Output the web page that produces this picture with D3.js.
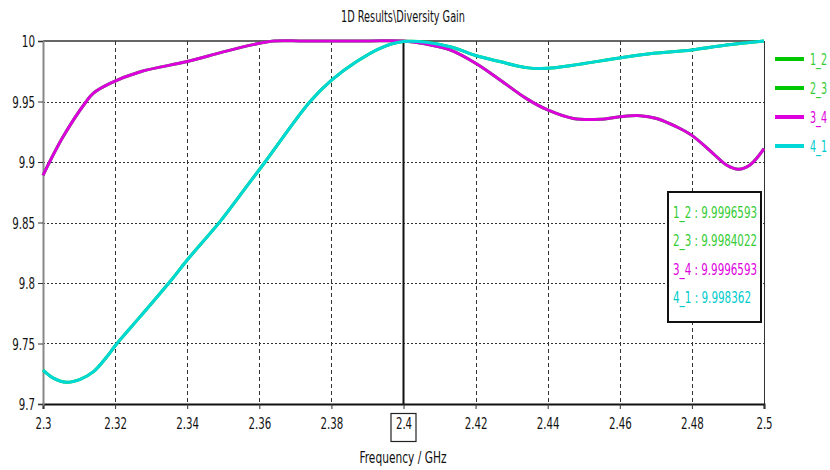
<!DOCTYPE html>
<html><head><meta charset="utf-8">
<script src="https://cdn.jsdelivr.net/npm/d3@7"></script>
<style>
body{margin:0;background:#fff;}
svg{display:block;}
text{font-family:"Liberation Sans Narrow","DejaVu Sans Condensed","Arial Narrow",sans-serif;}
</style></head>
<body><svg id="c" width="830" height="470"></svg>
<script>
// ---- data ----
const title = "1D Results\\Diversity Gain";
const xLabel = "Frequency / GHz";
const xTicks = [2.3, 2.32, 2.34, 2.36, 2.38, 2.4, 2.42, 2.44, 2.46, 2.48, 2.5];
const yTicks = [9.7, 9.75, 9.8, 9.85, 9.9, 9.95, 10];
const seriesNames = ["1_2", "2_3", "3_4", "4_1"];
const seriesColors = ["#00c800", "#00c800", "#dd00dd", "#00d8d8"];
const markerFreq = 2.4;
const markerValues = ["9.9996593", "9.9984022", "9.9996593", "9.998362"];
const markerColors = ["#33cc33", "#33cc33", "#dd00dd", "#00cccc"];

const freq12 = [2.300,2.3056,2.312,2.314,2.3186,2.327,2.340,2.350,2.3583,2.364,2.372,2.380,2.390,2.400,2.4055,2.4129,2.420,2.4267,2.434,2.440,2.4471,2.4545,2.460,2.4656,2.4702,2.4758,2.480,2.4859,2.4896,2.4929,2.4961,2.500];
const vals12 = [9.889,9.921,9.950,9.957,9.965,9.9746,9.983,9.991,9.997,10.0,10.0,10.0,10.0,10.0,9.998,9.9926,9.9816,9.968,9.9526,9.943,9.936,9.9353,9.9374,9.9383,9.936,9.929,9.922,9.907,9.8975,9.894,9.8975,9.911];
const freq23 = [2.300,2.303,2.3066,2.3103,2.314,2.3177,2.3202,2.3269,2.3352,2.340,2.3491,2.3547,2.3616,2.3741,2.3802,2.387,2.3935,2.400,2.4129,2.420,2.4267,2.434,2.440,2.447,2.460,2.4693,2.480,2.4896,2.500];
const vals23 = [9.728,9.7212,9.718,9.7204,9.7267,9.739,9.7488,9.772,9.801,9.819,9.8507,9.8727,9.900,9.950,9.968,9.983,9.994,9.9995,9.9953,9.988,9.983,9.978,9.9774,9.980,9.986,9.9898,9.9926,9.9967,10.0];
const freq34 = [2.300,2.3056,2.312,2.314,2.3186,2.327,2.340,2.350,2.3583,2.364,2.372,2.380,2.390,2.400,2.4055,2.4129,2.420,2.4267,2.434,2.440,2.4471,2.4545,2.460,2.4656,2.4702,2.4758,2.480,2.4859,2.4896,2.4929,2.4961,2.500];
const vals34 = [9.889,9.921,9.950,9.957,9.965,9.9746,9.983,9.991,9.997,10.0,10.0,10.0,10.0,10.0,9.998,9.9926,9.9816,9.968,9.9526,9.943,9.936,9.9353,9.9374,9.9383,9.936,9.929,9.922,9.907,9.8975,9.894,9.8975,9.911];
const freq41 = [2.300,2.303,2.3066,2.3103,2.314,2.3177,2.3202,2.3269,2.3352,2.340,2.3491,2.3547,2.3616,2.3741,2.3802,2.387,2.3935,2.400,2.4129,2.420,2.4267,2.434,2.440,2.447,2.460,2.4693,2.480,2.4896,2.500];
const vals41 = [9.728,9.7212,9.718,9.7204,9.7267,9.739,9.7488,9.772,9.801,9.819,9.8507,9.8727,9.900,9.950,9.968,9.983,9.994,9.9995,9.9953,9.988,9.983,9.978,9.9774,9.980,9.986,9.9898,9.9926,9.9967,10.0];

const seriesFreqs = [freq12, freq23, freq34, freq41];
const seriesVals = [vals12, vals23, vals34, vals41];

// ---- drawing ----
const svg = d3.select("#c");
const L = 43, R = 764, T = 41, B = 404;
const x = d3.scaleLinear().domain([2.3, 2.5]).range([L, R]);
const y = d3.scaleLinear().domain([9.7, 10]).range([B, T]);

// approximate condensed-font width of a numeric label
const numWidth = s => { let w = 0; for (const c of s) w += (c === "." ? 3 : (c === "_" ? 6 : 6.6)); return w; };
// squeeze a text horizontally to a target width (keeps real bbox)
function squeeze(sel, target, anchorX, anchorY) {
  const nat = sel.node().getComputedTextLength();
  const k = nat > 0 ? target / nat : 1;
  sel.attr("x", 0).attr("y", 0).attr("transform", `translate(${anchorX},${anchorY}) scale(${k},1)`);
}

svg.append("rect").attr("width", 830).attr("height", 470).attr("fill", "#fff");

// grid
const g = svg.append("g");
g.selectAll(".vg").data(xTicks.filter(t => t > 2.3 && t < 2.5 && Math.abs(t - markerFreq) > 1e-9)).enter()
  .append("line").attr("x1", d => Math.round(x(d)) + 0.5).attr("x2", d => Math.round(x(d)) + 0.5)
  .attr("y1", T).attr("y2", B).attr("stroke", "#333").attr("stroke-width", 1).attr("stroke-dasharray", "4,3");
g.selectAll(".hg").data(yTicks.filter(t => t > 9.7 && t < 10)).enter()
  .append("line").attr("y1", d => Math.round(y(d)) + 0.5).attr("y2", d => Math.round(y(d)) + 0.5)
  .attr("x1", L).attr("x2", R).attr("stroke", "#333").attr("stroke-width", 1).attr("stroke-dasharray", "2,2");

// frame
svg.append("line").attr("x1", L).attr("x2", R).attr("y1", T).attr("y2", T).attr("stroke", "#333").attr("stroke-width", 1.5);
svg.append("line").attr("x1", R + 0.5).attr("x2", R + 0.5).attr("y1", T).attr("y2", B).attr("stroke", "#333").attr("stroke-width", 1);

// axes
const xAxis = d3.axisBottom(x).tickValues(xTicks).tickFormat(d3.format("")).tickSize(5).tickPadding(9);
const yAxis = d3.axisLeft(y).tickValues(yTicks).tickFormat(d3.format("")).tickSize(5).tickPadding(3);
const gx = svg.append("g").attr("transform", `translate(0,${B})`).call(xAxis);
const gy = svg.append("g").attr("transform", `translate(${L},0)`).call(yAxis);
gx.select(".domain").attr("stroke", "#111").attr("stroke-width", 2);
gy.select(".domain").attr("stroke", "#888").attr("stroke-width", 2);
gx.selectAll(".tick line").attr("stroke", "#333");
gy.selectAll(".tick line").attr("stroke", "#333");
[gx, gy].forEach(a => a.selectAll("text").attr("fill", "#111").style("font-size", "16px")
  .style("font-family", '"Liberation Sans Narrow","DejaVu Sans Condensed",sans-serif')
  .each(function () { const s = d3.select(this); s.attr("textLength", numWidth(s.text())).attr("lengthAdjust", "spacingAndGlyphs"); }));
gy.selectAll("text").attr("dy", "0.35em");

// marker line
svg.append("line").attr("x1", x(markerFreq)).attr("x2", x(markerFreq)).attr("y1", T).attr("y2", B)
  .attr("stroke", "#111").attr("stroke-width", 2);
// box around marker tick label
svg.append("rect").attr("x", x(markerFreq) - 12.5).attr("y", 413.5).attr("width", 25).attr("height", 28)
  .attr("fill", "none").attr("stroke", "#222").attr("stroke-width", 1.2);

// series
const line = d3.line().curve(d3.curveCatmullRom.alpha(0.5));
seriesNames.forEach((n, i) => {
  const pts = seriesFreqs[i].map((f, k) => [x(f), y(seriesVals[i][k])]);
  svg.append("path").attr("d", line(pts)).attr("fill", "none")
    .attr("stroke", seriesColors[i]).attr("stroke-width", 3).attr("stroke-linejoin", "round");
});

// title & x label
svg.append("text").attr("x", 403).attr("y", 22).attr("text-anchor", "middle")
  .style("font-size", "16px").attr("fill", "#111").attr("textLength", 124).attr("lengthAdjust", "spacingAndGlyphs").text(title);
svg.append("text").attr("x", 403).attr("y", 463).attr("text-anchor", "middle")
  .style("font-size", "16px").attr("fill", "#111").attr("textLength", 87).attr("lengthAdjust", "spacingAndGlyphs").text(xLabel);

// legend
const lg = svg.append("g");
seriesNames.forEach((n, i) => {
  const yy = 59 + i * 29;
  lg.append("line").attr("x1", 775).attr("x2", 804).attr("y1", yy).attr("y2", yy)
    .attr("stroke", seriesColors[i]).attr("stroke-width", 4);
  const t = lg.append("text").attr("dy", "0.35em").style("font-size", "16px")
    .attr("fill", markerColors[i]).text(n);
  squeeze(t, 17, 810, yy);
});

// marker value box
svg.append("rect").attr("x", 668).attr("y", 192).attr("width", 93).attr("height", 130)
  .attr("fill", "#fff").attr("stroke", "#111").attr("stroke-width", 2);
seriesNames.forEach((n, i) => {
  const t = `${n} : ${markerValues[i]}`;
  svg.append("text").attr("x", 673).attr("y", 212 + i * 28.5).attr("dy", "0.35em")
    .style("font-size", "16px").attr("fill", markerColors[i])
    .attr("textLength", i === 3 ? 78 : 84).attr("lengthAdjust", "spacingAndGlyphs").text(t);
});
</script></body></html>
